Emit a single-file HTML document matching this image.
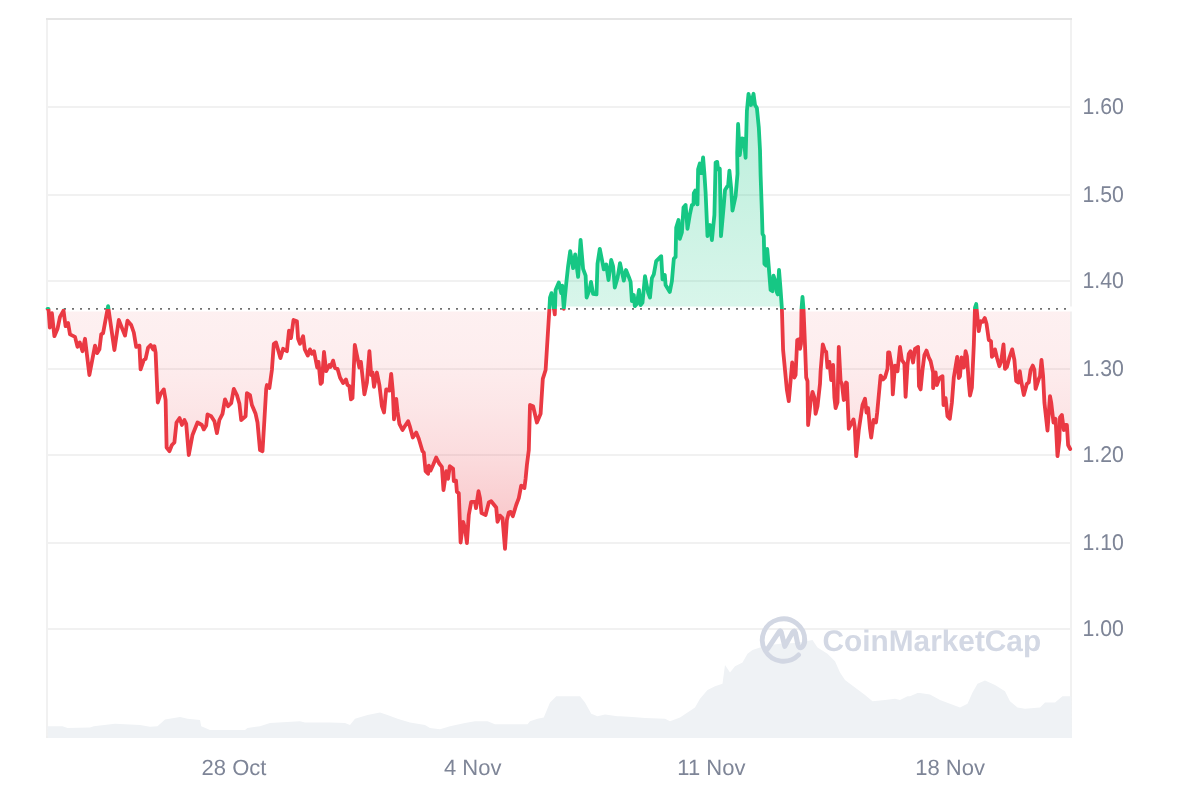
<!DOCTYPE html>
<html><head><meta charset="utf-8"><title>Chart</title>
<style>
html,body{margin:0;padding:0;background:#fff;}
body{width:1200px;height:800px;overflow:hidden;}
svg{display:block;}
text{font-family:"Liberation Sans",Arial,Helvetica,sans-serif;text-rendering:geometricPrecision;}
</style></head><body>
<svg width="1200" height="800" viewBox="0 0 1200 800">
<defs>
<clipPath id="up"><rect x="0" y="0" width="1200" height="309"/></clipPath>
<clipPath id="dn"><rect x="0" y="309" width="1200" height="500"/></clipPath>
<linearGradient id="gg" gradientUnits="userSpaceOnUse" x1="0" y1="90" x2="0" y2="309">
<stop offset="0" stop-color="#16c784" stop-opacity="0.30"/><stop offset="1" stop-color="#16c784" stop-opacity="0.165"/></linearGradient>
<linearGradient id="rg" gradientUnits="userSpaceOnUse" x1="0" y1="309" x2="0" y2="550">
<stop offset="0" stop-color="#ea3943" stop-opacity="0.075"/><stop offset="0.2" stop-color="#ea3943" stop-opacity="0.088"/><stop offset="0.4" stop-color="#ea3943" stop-opacity="0.126"/><stop offset="0.6" stop-color="#ea3943" stop-opacity="0.175"/><stop offset="0.8" stop-color="#ea3943" stop-opacity="0.245"/><stop offset="1" stop-color="#ea3943" stop-opacity="0.33"/></linearGradient>
</defs>
<rect width="1200" height="800" fill="#fff"/>

<rect x="48" y="106" width="1022" height="2" fill="#f1f1f1"/>
<rect x="48" y="194" width="1022" height="2" fill="#f1f1f1"/>
<rect x="48" y="280" width="1022" height="2" fill="#f1f1f1"/>
<rect x="48" y="368" width="1022" height="2" fill="#f1f1f1"/>
<rect x="48" y="454" width="1022" height="2" fill="#f1f1f1"/>
<rect x="48" y="542" width="1022" height="2" fill="#f1f1f1"/>
<rect x="48" y="628" width="1022" height="2" fill="#f1f1f1"/>
<rect x="46" y="20" width="2" height="718" fill="#f1f1f1"/><rect x="1070" y="20" width="2" height="718" fill="#f1f1f1"/><rect x="46" y="736" width="1026" height="2" fill="#efefef"/><rect x="46" y="18" width="1026" height="2" fill="#e5e5e5"/>
<path d="M48,738 L47.5,726.25 L62.5,726.25 L67.5,728 L90,727.5 L93.75,726.25 L115,723.75 L140,725 L150,726.75 L157.5,726.25 L165,719.5 L180,717 L187.5,718.75 L200,720 L201.25,726.25 L210,730 L245,730 L247.5,728 L260,726.25 L270,723 L300,721.25 L305,722.5 L327.5,722.5 L330,722.5 L345,723 L350,725 L355,718.75 L367.5,715 L380,712.5 L387.5,715 L397.5,718.75 L410,722.5 L425,725 L430,728 L440,729.25 L450,726.25 L465,723 L475,721.25 L487.5,721.25 L495,724.25 L527.5,724.25 L530,721.25 L537.5,718.75 L543.75,717.5 L550,702.5 L556.25,696.25 L580,696.25 L585,702.5 L591.25,713.75 L597.5,716.25 L605,714.5 L617.5,716.25 L620,716.25 L632.5,717 L645,718 L665,718.75 L670,721.25 L680,717.5 L687.5,712.5 L695,707.5 L700,698.75 L707.5,690 L715,686.25 L722.5,683.75 L725,665 L730,672.5 L735,666.25 L742.5,662.5 L747.5,653.75 L752.5,650 L760,647.5 L770,645 L780,643.75 L795,643 L805,641.5 L812.5,640 L817.5,647.5 L827.5,653.75 L835,661.25 L840,672.5 L845,680 L855,687.5 L865,695 L872.5,701.25 L885,700 L895,698.75 L900,700 L907.5,696.25 L910,696.25 L917.5,693 L920,693 L930,694.5 L940,700 L950,703.75 L960,707.5 L967.5,703.75 L972.5,692.5 L977.5,683.75 L985,680.5 L995,685 L1005,691.25 L1010,701.25 L1017.5,707.5 L1025,708.75 L1040,707.5 L1045,702.5 L1055,702.5 L1062.5,696.25 L1071.25,696.25 L1072,738 Z" fill="#eff2f5"/>
<g id="wm" fill="none" stroke="#d2d7e3" stroke-linecap="round" stroke-linejoin="round">
<path d="M798.6,654.9 A21.2,21.2 0 1 1 804.7,640.3" stroke-width="4.8"/>
<path d="M767.8,648.6 L779.2,631.6 Q780.5,629.8 781.2,632.2 L784.8,646.4 L792.4,632.6 Q794.4,629.4 795.5,633 L797.8,644.5 Q799,649.6 802.2,646.8 Q804.7,644.5 804.7,640.3" stroke-width="5"/>
</g>
<text x="822.6" y="651.4" font-size="29.8" font-weight="bold" fill="#d3d8e4">CoinMarketCap</text>
<path d="M47.5,308.8 L48.5,308.8 L49.8,327.5 L51.9,313.1 L54.4,336.2 L57.5,328.8 L60,316.9 L63.5,310.6 L65.6,326.2 L68.1,323.1 L70,334.4 L75,336.9 L77.5,346.9 L79.8,342.5 L82.5,351.2 L85,338.8 L89.4,375 L95,345.6 L97.2,353.1 L99.4,349.4 L101.2,334.4 L103.1,333.1 L108.1,306.2 L114.4,350 L118.8,320 L125,335.6 L127.5,320.6 L131.2,325 L133.8,332.5 L136.2,346.9 L139.4,345.6 L140.6,369.4 L143.8,360 L145.6,358.8 L148.1,347.5 L150.6,345 L153.1,349.4 L154.4,346.2 L155.6,352.5 L157.8,402.5 L160.6,393.8 L163.8,389.4 L165.6,400 L166.6,447.5 L169.4,451.2 L171.9,445 L174.4,442.5 L176.5,422.5 L179.6,418.1 L181.9,425 L184.4,420 L186.2,423.8 L188.8,455 L192.5,435 L197.5,422.5 L201.9,425 L203.8,429.4 L206.2,425.6 L207.5,414.4 L211.2,416.2 L214.4,421.2 L216.9,433.1 L219.4,420 L222.5,413.8 L225,399.4 L228.1,406.2 L231.2,403.1 L233.8,388.8 L236.9,395 L239.4,403.8 L241.2,420 L245.6,416.2 L246.9,393.1 L250,395 L251.9,405 L255.6,413.8 L257.5,422.5 L260,450 L262.5,451.2 L264.4,420 L266.2,388.8 L266.9,385 L269.4,388.1 L271.9,370 L273.8,343.8 L276,342.5 L280.4,358.1 L283.1,348.8 L286.9,351.2 L289,330.6 L291,338.1 L293.5,320 L296.9,321.2 L298.1,338.8 L300,343.8 L303.1,336.2 L304.8,349.4 L307.8,355.6 L310,349.4 L311.9,353.8 L314,351.2 L317.2,367.5 L318.5,361.9 L320.6,383.8 L321.9,382.5 L324,351.9 L326.2,371.2 L329.4,365 L330.6,366.9 L333.1,360.6 L335,368.1 L337.5,368.8 L340,377.5 L343.1,383.1 L346,379.4 L347.5,385 L349.4,386.2 L351,399.4 L352.5,398.1 L354.8,345 L359.4,367.5 L360.9,361.9 L364.4,394.4 L366.9,382.5 L369.4,351.2 L371.2,375 L372.5,372.5 L374,386.9 L376.9,372.5 L379.4,385 L381.9,406.2 L384,412.5 L386.2,389.4 L389.4,390.6 L391.2,373.8 L392.8,391.2 L394,419.4 L396.2,398.8 L397.5,411.2 L399.4,423.8 L402.5,430 L405.6,425 L408.1,421.2 L410,426.9 L412.8,437.5 L416.2,432.5 L418.8,438.8 L422.5,451.2 L423.8,452.5 L425.6,471.2 L428.1,473.8 L428.8,465.6 L430.6,470.6 L433.1,465 L436.2,457.5 L439.4,463.8 L441.9,466.9 L443.5,490 L446.2,471.2 L448.1,478.8 L449.8,466.2 L453.1,468.8 L453.8,481.2 L456,480.6 L456.9,491.9 L458.8,493.1 L460.6,542.5 L463.1,521.9 L465,528.1 L466.9,543.1 L468.8,515 L471.2,501.9 L475,501.9 L476,508.1 L478.5,491.2 L480,498.1 L481.5,513.1 L485.6,515 L488.8,502.5 L491.2,501.2 L496.2,507.5 L497.5,521.9 L500,515.6 L502.5,518.1 L505,548.8 L506.9,520 L508.8,512.5 L510.6,511.9 L512.8,516.2 L516.2,505 L518.8,498.1 L521.2,485.6 L524.4,488.1 L525.6,478.8 L526.9,465 L528.8,450 L530,405 L533.1,406.2 L536.9,422.5 L540.6,413.8 L542.8,378.8 L545.6,370 L549.4,308.8 L550,297.5 L551.5,293.1 L553.1,302.5 L554.8,314.4 L555.6,290 L558.8,282.5 L561.2,293.1 L562.2,285.6 L563.8,308.8 L566.2,283.8 L568.1,266.2 L570.2,251.2 L573.1,268.1 L575.2,254.4 L578.1,276.9 L580.6,240 L583.1,268.8 L585.6,275.6 L586.6,297.5 L589.4,290 L591,281.9 L593.1,293.8 L596.5,294.4 L597.5,263.8 L599.8,248.8 L603.8,269.4 L606.2,264.4 L608.5,280 L611.2,260 L613.1,266.2 L614.8,287.5 L617.5,278.1 L620,263.1 L623.8,280.6 L626,270 L628.8,276.9 L630.6,281.9 L631.9,301.2 L633.8,295 L634.8,306.2 L636.9,303.8 L639,290 L640.6,305 L642.5,302.5 L645,276.2 L648.1,292.5 L650,297.5 L651.9,278.1 L653.8,274.4 L656.2,261.2 L661.2,256.2 L662.5,279.4 L664.8,275 L665.6,285 L669.8,291.9 L671.9,281.2 L673.8,258.8 L675.6,256.9 L676.2,227.5 L678.5,220 L679.8,238.8 L681.9,232.5 L683.5,207.5 L685.6,205 L687.5,228.8 L690,213.8 L691.9,205 L693.5,204.4 L693.8,193.1 L695.2,190.6 L697.5,204.4 L698.1,169.4 L699.8,163.5 L701.2,173.1 L703.1,157.5 L704.4,173.8 L705.6,192.5 L707.5,236.2 L710,225 L711.9,240 L714.4,215 L715.6,162.5 L717.2,161.9 L718.1,169.4 L719.8,168.8 L721,236.2 L723.8,205 L725,190 L726.9,186.9 L728.1,185.6 L729.4,170.6 L731.2,188.8 L732.5,210.6 L735.6,196.2 L737.5,173.8 L737.2,152.5 L738.1,124 L739.8,155 L741.9,138.5 L743.8,138.8 L745.6,157.8 L746.9,111.2 L748.5,93.8 L751,105 L753.5,93.8 L755,105 L756.9,108.1 L758.8,127.5 L760,150 L760.6,175 L761.9,212.5 L762.5,233.8 L763.8,236.2 L764.4,263.8 L766.2,265.6 L767.2,248.8 L768.8,267.5 L770.6,290 L772.5,291.2 L773.5,275.6 L775,280 L776.9,292.5 L777.8,294.4 L779,270 L780.6,290 L781.9,308.8 L783.1,350 L786.9,390 L788.8,401.2 L792.2,362.5 L794.4,377.5 L795.6,375 L797.2,340 L798.8,339.4 L800,348.8 L801,343.8 L801.5,308.8 L802.5,296.9 L803.5,308.8 L805,345 L806.2,377.5 L807.5,381.2 L808.1,425 L810.6,401.9 L812.5,391.9 L814.4,397.5 L815.6,413.8 L817.5,406.2 L820,383.8 L820.6,371.2 L822.8,344.4 L825,351.2 L826.2,351.9 L827.5,367.5 L829.4,361.9 L831.2,380 L833.1,365 L834.4,397.5 L835.6,408.1 L837.5,402.5 L838.8,346.9 L840.6,381.2 L841.9,383.8 L843.8,400 L845,398.8 L846,382.5 L846.9,383.1 L848.8,428.8 L851.2,423.8 L853.5,419.4 L854.8,427.5 L856.2,456.2 L858.8,430 L862.5,405 L865,398.8 L866.5,412.5 L868.1,408.1 L870,428.8 L871.2,437.5 L873.5,420 L876,422.5 L877.2,412.5 L880.6,375.6 L883.1,379.4 L885,377.5 L887.5,368.8 L888.1,352.5 L889.4,352.5 L891.9,367.5 L892.8,394.4 L895,365.6 L897.5,371.2 L900,346.9 L901.9,360 L904.4,363.8 L905.6,396.9 L907.5,365 L908.8,353.8 L910.6,351.2 L913.1,362.5 L915,348.8 L918.1,346.9 L919,386.2 L920.6,389.4 L922.5,370 L924.4,355 L926.5,350.6 L928.8,357.5 L930.6,361.2 L933.1,372.5 L933.1,388.1 L935.6,372.5 L936.9,385 L939.4,378.1 L942.5,376.2 L943.5,405 L945.6,398.1 L947.5,416.2 L949.8,418.8 L951.9,402.5 L953.8,377.5 L957.2,356.9 L958.8,378.1 L960,376.2 L961.5,357.5 L963.8,367.5 L965.6,351.2 L966.9,356.2 L968.8,382.5 L970,395.6 L971.9,387.5 L973.8,345 L975,307.5 L976.2,304 L977.2,315 L978.8,331.2 L980.6,321.2 L982.5,321.9 L984.8,318.1 L986.5,323.8 L988.8,340 L991,341.2 L991.9,356.9 L993.5,355 L995,349.4 L996.9,357.5 L999.4,366.2 L1001.2,361.2 L1003.5,344.4 L1005,368.8 L1006.9,366.9 L1009.4,357.5 L1012.2,349.4 L1014.4,360 L1016.2,381.2 L1018.5,382.5 L1019.8,371.2 L1021.2,381.2 L1023.8,395 L1026.9,383.8 L1028.8,382.5 L1030.6,370 L1032.8,365.6 L1034.4,370 L1035.6,388.8 L1038.8,378.8 L1040,376.2 L1041.5,360 L1043.1,376.2 L1044.4,402.5 L1047.5,430.6 L1050,396.2 L1051.2,402.5 L1053.5,422.5 L1055.6,418.8 L1057.5,456.2 L1059.4,440 L1060,417.5 L1061.9,415 L1063.8,430 L1065.6,425 L1066.9,425 L1068.1,445 L1070.2,449 L1070.2,309.0 L47.5,309.0 Z" fill="url(#gg)" clip-path="url(#up)"/>
<path d="M47.5,308.8 L48.5,308.8 L49.8,327.5 L51.9,313.1 L54.4,336.2 L57.5,328.8 L60,316.9 L63.5,310.6 L65.6,326.2 L68.1,323.1 L70,334.4 L75,336.9 L77.5,346.9 L79.8,342.5 L82.5,351.2 L85,338.8 L89.4,375 L95,345.6 L97.2,353.1 L99.4,349.4 L101.2,334.4 L103.1,333.1 L108.1,306.2 L114.4,350 L118.8,320 L125,335.6 L127.5,320.6 L131.2,325 L133.8,332.5 L136.2,346.9 L139.4,345.6 L140.6,369.4 L143.8,360 L145.6,358.8 L148.1,347.5 L150.6,345 L153.1,349.4 L154.4,346.2 L155.6,352.5 L157.8,402.5 L160.6,393.8 L163.8,389.4 L165.6,400 L166.6,447.5 L169.4,451.2 L171.9,445 L174.4,442.5 L176.5,422.5 L179.6,418.1 L181.9,425 L184.4,420 L186.2,423.8 L188.8,455 L192.5,435 L197.5,422.5 L201.9,425 L203.8,429.4 L206.2,425.6 L207.5,414.4 L211.2,416.2 L214.4,421.2 L216.9,433.1 L219.4,420 L222.5,413.8 L225,399.4 L228.1,406.2 L231.2,403.1 L233.8,388.8 L236.9,395 L239.4,403.8 L241.2,420 L245.6,416.2 L246.9,393.1 L250,395 L251.9,405 L255.6,413.8 L257.5,422.5 L260,450 L262.5,451.2 L264.4,420 L266.2,388.8 L266.9,385 L269.4,388.1 L271.9,370 L273.8,343.8 L276,342.5 L280.4,358.1 L283.1,348.8 L286.9,351.2 L289,330.6 L291,338.1 L293.5,320 L296.9,321.2 L298.1,338.8 L300,343.8 L303.1,336.2 L304.8,349.4 L307.8,355.6 L310,349.4 L311.9,353.8 L314,351.2 L317.2,367.5 L318.5,361.9 L320.6,383.8 L321.9,382.5 L324,351.9 L326.2,371.2 L329.4,365 L330.6,366.9 L333.1,360.6 L335,368.1 L337.5,368.8 L340,377.5 L343.1,383.1 L346,379.4 L347.5,385 L349.4,386.2 L351,399.4 L352.5,398.1 L354.8,345 L359.4,367.5 L360.9,361.9 L364.4,394.4 L366.9,382.5 L369.4,351.2 L371.2,375 L372.5,372.5 L374,386.9 L376.9,372.5 L379.4,385 L381.9,406.2 L384,412.5 L386.2,389.4 L389.4,390.6 L391.2,373.8 L392.8,391.2 L394,419.4 L396.2,398.8 L397.5,411.2 L399.4,423.8 L402.5,430 L405.6,425 L408.1,421.2 L410,426.9 L412.8,437.5 L416.2,432.5 L418.8,438.8 L422.5,451.2 L423.8,452.5 L425.6,471.2 L428.1,473.8 L428.8,465.6 L430.6,470.6 L433.1,465 L436.2,457.5 L439.4,463.8 L441.9,466.9 L443.5,490 L446.2,471.2 L448.1,478.8 L449.8,466.2 L453.1,468.8 L453.8,481.2 L456,480.6 L456.9,491.9 L458.8,493.1 L460.6,542.5 L463.1,521.9 L465,528.1 L466.9,543.1 L468.8,515 L471.2,501.9 L475,501.9 L476,508.1 L478.5,491.2 L480,498.1 L481.5,513.1 L485.6,515 L488.8,502.5 L491.2,501.2 L496.2,507.5 L497.5,521.9 L500,515.6 L502.5,518.1 L505,548.8 L506.9,520 L508.8,512.5 L510.6,511.9 L512.8,516.2 L516.2,505 L518.8,498.1 L521.2,485.6 L524.4,488.1 L525.6,478.8 L526.9,465 L528.8,450 L530,405 L533.1,406.2 L536.9,422.5 L540.6,413.8 L542.8,378.8 L545.6,370 L549.4,308.8 L550,297.5 L551.5,293.1 L553.1,302.5 L554.8,314.4 L555.6,290 L558.8,282.5 L561.2,293.1 L562.2,285.6 L563.8,308.8 L566.2,283.8 L568.1,266.2 L570.2,251.2 L573.1,268.1 L575.2,254.4 L578.1,276.9 L580.6,240 L583.1,268.8 L585.6,275.6 L586.6,297.5 L589.4,290 L591,281.9 L593.1,293.8 L596.5,294.4 L597.5,263.8 L599.8,248.8 L603.8,269.4 L606.2,264.4 L608.5,280 L611.2,260 L613.1,266.2 L614.8,287.5 L617.5,278.1 L620,263.1 L623.8,280.6 L626,270 L628.8,276.9 L630.6,281.9 L631.9,301.2 L633.8,295 L634.8,306.2 L636.9,303.8 L639,290 L640.6,305 L642.5,302.5 L645,276.2 L648.1,292.5 L650,297.5 L651.9,278.1 L653.8,274.4 L656.2,261.2 L661.2,256.2 L662.5,279.4 L664.8,275 L665.6,285 L669.8,291.9 L671.9,281.2 L673.8,258.8 L675.6,256.9 L676.2,227.5 L678.5,220 L679.8,238.8 L681.9,232.5 L683.5,207.5 L685.6,205 L687.5,228.8 L690,213.8 L691.9,205 L693.5,204.4 L693.8,193.1 L695.2,190.6 L697.5,204.4 L698.1,169.4 L699.8,163.5 L701.2,173.1 L703.1,157.5 L704.4,173.8 L705.6,192.5 L707.5,236.2 L710,225 L711.9,240 L714.4,215 L715.6,162.5 L717.2,161.9 L718.1,169.4 L719.8,168.8 L721,236.2 L723.8,205 L725,190 L726.9,186.9 L728.1,185.6 L729.4,170.6 L731.2,188.8 L732.5,210.6 L735.6,196.2 L737.5,173.8 L737.2,152.5 L738.1,124 L739.8,155 L741.9,138.5 L743.8,138.8 L745.6,157.8 L746.9,111.2 L748.5,93.8 L751,105 L753.5,93.8 L755,105 L756.9,108.1 L758.8,127.5 L760,150 L760.6,175 L761.9,212.5 L762.5,233.8 L763.8,236.2 L764.4,263.8 L766.2,265.6 L767.2,248.8 L768.8,267.5 L770.6,290 L772.5,291.2 L773.5,275.6 L775,280 L776.9,292.5 L777.8,294.4 L779,270 L780.6,290 L781.9,308.8 L783.1,350 L786.9,390 L788.8,401.2 L792.2,362.5 L794.4,377.5 L795.6,375 L797.2,340 L798.8,339.4 L800,348.8 L801,343.8 L801.5,308.8 L802.5,296.9 L803.5,308.8 L805,345 L806.2,377.5 L807.5,381.2 L808.1,425 L810.6,401.9 L812.5,391.9 L814.4,397.5 L815.6,413.8 L817.5,406.2 L820,383.8 L820.6,371.2 L822.8,344.4 L825,351.2 L826.2,351.9 L827.5,367.5 L829.4,361.9 L831.2,380 L833.1,365 L834.4,397.5 L835.6,408.1 L837.5,402.5 L838.8,346.9 L840.6,381.2 L841.9,383.8 L843.8,400 L845,398.8 L846,382.5 L846.9,383.1 L848.8,428.8 L851.2,423.8 L853.5,419.4 L854.8,427.5 L856.2,456.2 L858.8,430 L862.5,405 L865,398.8 L866.5,412.5 L868.1,408.1 L870,428.8 L871.2,437.5 L873.5,420 L876,422.5 L877.2,412.5 L880.6,375.6 L883.1,379.4 L885,377.5 L887.5,368.8 L888.1,352.5 L889.4,352.5 L891.9,367.5 L892.8,394.4 L895,365.6 L897.5,371.2 L900,346.9 L901.9,360 L904.4,363.8 L905.6,396.9 L907.5,365 L908.8,353.8 L910.6,351.2 L913.1,362.5 L915,348.8 L918.1,346.9 L919,386.2 L920.6,389.4 L922.5,370 L924.4,355 L926.5,350.6 L928.8,357.5 L930.6,361.2 L933.1,372.5 L933.1,388.1 L935.6,372.5 L936.9,385 L939.4,378.1 L942.5,376.2 L943.5,405 L945.6,398.1 L947.5,416.2 L949.8,418.8 L951.9,402.5 L953.8,377.5 L957.2,356.9 L958.8,378.1 L960,376.2 L961.5,357.5 L963.8,367.5 L965.6,351.2 L966.9,356.2 L968.8,382.5 L970,395.6 L971.9,387.5 L973.8,345 L975,307.5 L976.2,304 L977.2,315 L978.8,331.2 L980.6,321.2 L982.5,321.9 L984.8,318.1 L986.5,323.8 L988.8,340 L991,341.2 L991.9,356.9 L993.5,355 L995,349.4 L996.9,357.5 L999.4,366.2 L1001.2,361.2 L1003.5,344.4 L1005,368.8 L1006.9,366.9 L1009.4,357.5 L1012.2,349.4 L1014.4,360 L1016.2,381.2 L1018.5,382.5 L1019.8,371.2 L1021.2,381.2 L1023.8,395 L1026.9,383.8 L1028.8,382.5 L1030.6,370 L1032.8,365.6 L1034.4,370 L1035.6,388.8 L1038.8,378.8 L1040,376.2 L1041.5,360 L1043.1,376.2 L1044.4,402.5 L1047.5,430.6 L1050,396.2 L1051.2,402.5 L1053.5,422.5 L1055.6,418.8 L1057.5,456.2 L1059.4,440 L1060,417.5 L1061.9,415 L1063.8,430 L1065.6,425 L1066.9,425 L1068.1,445 L1070.2,449 L1070.2,309.0 L47.5,309.0 Z" fill="url(#rg)" clip-path="url(#dn)"/>
<line x1="48" x2="1072" y1="309.0" y2="309.0" stroke="#fff" stroke-width="5.2"/>
<line x1="48" x2="1072" y1="308.9" y2="308.9" stroke="#707070" stroke-width="1.8" stroke-dasharray="2 6"/>
<path d="M47.5,308.8 L48.5,308.8 L49.8,327.5 L51.9,313.1 L54.4,336.2 L57.5,328.8 L60,316.9 L63.5,310.6 L65.6,326.2 L68.1,323.1 L70,334.4 L75,336.9 L77.5,346.9 L79.8,342.5 L82.5,351.2 L85,338.8 L89.4,375 L95,345.6 L97.2,353.1 L99.4,349.4 L101.2,334.4 L103.1,333.1 L108.1,306.2 L114.4,350 L118.8,320 L125,335.6 L127.5,320.6 L131.2,325 L133.8,332.5 L136.2,346.9 L139.4,345.6 L140.6,369.4 L143.8,360 L145.6,358.8 L148.1,347.5 L150.6,345 L153.1,349.4 L154.4,346.2 L155.6,352.5 L157.8,402.5 L160.6,393.8 L163.8,389.4 L165.6,400 L166.6,447.5 L169.4,451.2 L171.9,445 L174.4,442.5 L176.5,422.5 L179.6,418.1 L181.9,425 L184.4,420 L186.2,423.8 L188.8,455 L192.5,435 L197.5,422.5 L201.9,425 L203.8,429.4 L206.2,425.6 L207.5,414.4 L211.2,416.2 L214.4,421.2 L216.9,433.1 L219.4,420 L222.5,413.8 L225,399.4 L228.1,406.2 L231.2,403.1 L233.8,388.8 L236.9,395 L239.4,403.8 L241.2,420 L245.6,416.2 L246.9,393.1 L250,395 L251.9,405 L255.6,413.8 L257.5,422.5 L260,450 L262.5,451.2 L264.4,420 L266.2,388.8 L266.9,385 L269.4,388.1 L271.9,370 L273.8,343.8 L276,342.5 L280.4,358.1 L283.1,348.8 L286.9,351.2 L289,330.6 L291,338.1 L293.5,320 L296.9,321.2 L298.1,338.8 L300,343.8 L303.1,336.2 L304.8,349.4 L307.8,355.6 L310,349.4 L311.9,353.8 L314,351.2 L317.2,367.5 L318.5,361.9 L320.6,383.8 L321.9,382.5 L324,351.9 L326.2,371.2 L329.4,365 L330.6,366.9 L333.1,360.6 L335,368.1 L337.5,368.8 L340,377.5 L343.1,383.1 L346,379.4 L347.5,385 L349.4,386.2 L351,399.4 L352.5,398.1 L354.8,345 L359.4,367.5 L360.9,361.9 L364.4,394.4 L366.9,382.5 L369.4,351.2 L371.2,375 L372.5,372.5 L374,386.9 L376.9,372.5 L379.4,385 L381.9,406.2 L384,412.5 L386.2,389.4 L389.4,390.6 L391.2,373.8 L392.8,391.2 L394,419.4 L396.2,398.8 L397.5,411.2 L399.4,423.8 L402.5,430 L405.6,425 L408.1,421.2 L410,426.9 L412.8,437.5 L416.2,432.5 L418.8,438.8 L422.5,451.2 L423.8,452.5 L425.6,471.2 L428.1,473.8 L428.8,465.6 L430.6,470.6 L433.1,465 L436.2,457.5 L439.4,463.8 L441.9,466.9 L443.5,490 L446.2,471.2 L448.1,478.8 L449.8,466.2 L453.1,468.8 L453.8,481.2 L456,480.6 L456.9,491.9 L458.8,493.1 L460.6,542.5 L463.1,521.9 L465,528.1 L466.9,543.1 L468.8,515 L471.2,501.9 L475,501.9 L476,508.1 L478.5,491.2 L480,498.1 L481.5,513.1 L485.6,515 L488.8,502.5 L491.2,501.2 L496.2,507.5 L497.5,521.9 L500,515.6 L502.5,518.1 L505,548.8 L506.9,520 L508.8,512.5 L510.6,511.9 L512.8,516.2 L516.2,505 L518.8,498.1 L521.2,485.6 L524.4,488.1 L525.6,478.8 L526.9,465 L528.8,450 L530,405 L533.1,406.2 L536.9,422.5 L540.6,413.8 L542.8,378.8 L545.6,370 L549.4,308.8 L550,297.5 L551.5,293.1 L553.1,302.5 L554.8,314.4 L555.6,290 L558.8,282.5 L561.2,293.1 L562.2,285.6 L563.8,308.8 L566.2,283.8 L568.1,266.2 L570.2,251.2 L573.1,268.1 L575.2,254.4 L578.1,276.9 L580.6,240 L583.1,268.8 L585.6,275.6 L586.6,297.5 L589.4,290 L591,281.9 L593.1,293.8 L596.5,294.4 L597.5,263.8 L599.8,248.8 L603.8,269.4 L606.2,264.4 L608.5,280 L611.2,260 L613.1,266.2 L614.8,287.5 L617.5,278.1 L620,263.1 L623.8,280.6 L626,270 L628.8,276.9 L630.6,281.9 L631.9,301.2 L633.8,295 L634.8,306.2 L636.9,303.8 L639,290 L640.6,305 L642.5,302.5 L645,276.2 L648.1,292.5 L650,297.5 L651.9,278.1 L653.8,274.4 L656.2,261.2 L661.2,256.2 L662.5,279.4 L664.8,275 L665.6,285 L669.8,291.9 L671.9,281.2 L673.8,258.8 L675.6,256.9 L676.2,227.5 L678.5,220 L679.8,238.8 L681.9,232.5 L683.5,207.5 L685.6,205 L687.5,228.8 L690,213.8 L691.9,205 L693.5,204.4 L693.8,193.1 L695.2,190.6 L697.5,204.4 L698.1,169.4 L699.8,163.5 L701.2,173.1 L703.1,157.5 L704.4,173.8 L705.6,192.5 L707.5,236.2 L710,225 L711.9,240 L714.4,215 L715.6,162.5 L717.2,161.9 L718.1,169.4 L719.8,168.8 L721,236.2 L723.8,205 L725,190 L726.9,186.9 L728.1,185.6 L729.4,170.6 L731.2,188.8 L732.5,210.6 L735.6,196.2 L737.5,173.8 L737.2,152.5 L738.1,124 L739.8,155 L741.9,138.5 L743.8,138.8 L745.6,157.8 L746.9,111.2 L748.5,93.8 L751,105 L753.5,93.8 L755,105 L756.9,108.1 L758.8,127.5 L760,150 L760.6,175 L761.9,212.5 L762.5,233.8 L763.8,236.2 L764.4,263.8 L766.2,265.6 L767.2,248.8 L768.8,267.5 L770.6,290 L772.5,291.2 L773.5,275.6 L775,280 L776.9,292.5 L777.8,294.4 L779,270 L780.6,290 L781.9,308.8 L783.1,350 L786.9,390 L788.8,401.2 L792.2,362.5 L794.4,377.5 L795.6,375 L797.2,340 L798.8,339.4 L800,348.8 L801,343.8 L801.5,308.8 L802.5,296.9 L803.5,308.8 L805,345 L806.2,377.5 L807.5,381.2 L808.1,425 L810.6,401.9 L812.5,391.9 L814.4,397.5 L815.6,413.8 L817.5,406.2 L820,383.8 L820.6,371.2 L822.8,344.4 L825,351.2 L826.2,351.9 L827.5,367.5 L829.4,361.9 L831.2,380 L833.1,365 L834.4,397.5 L835.6,408.1 L837.5,402.5 L838.8,346.9 L840.6,381.2 L841.9,383.8 L843.8,400 L845,398.8 L846,382.5 L846.9,383.1 L848.8,428.8 L851.2,423.8 L853.5,419.4 L854.8,427.5 L856.2,456.2 L858.8,430 L862.5,405 L865,398.8 L866.5,412.5 L868.1,408.1 L870,428.8 L871.2,437.5 L873.5,420 L876,422.5 L877.2,412.5 L880.6,375.6 L883.1,379.4 L885,377.5 L887.5,368.8 L888.1,352.5 L889.4,352.5 L891.9,367.5 L892.8,394.4 L895,365.6 L897.5,371.2 L900,346.9 L901.9,360 L904.4,363.8 L905.6,396.9 L907.5,365 L908.8,353.8 L910.6,351.2 L913.1,362.5 L915,348.8 L918.1,346.9 L919,386.2 L920.6,389.4 L922.5,370 L924.4,355 L926.5,350.6 L928.8,357.5 L930.6,361.2 L933.1,372.5 L933.1,388.1 L935.6,372.5 L936.9,385 L939.4,378.1 L942.5,376.2 L943.5,405 L945.6,398.1 L947.5,416.2 L949.8,418.8 L951.9,402.5 L953.8,377.5 L957.2,356.9 L958.8,378.1 L960,376.2 L961.5,357.5 L963.8,367.5 L965.6,351.2 L966.9,356.2 L968.8,382.5 L970,395.6 L971.9,387.5 L973.8,345 L975,307.5 L976.2,304 L977.2,315 L978.8,331.2 L980.6,321.2 L982.5,321.9 L984.8,318.1 L986.5,323.8 L988.8,340 L991,341.2 L991.9,356.9 L993.5,355 L995,349.4 L996.9,357.5 L999.4,366.2 L1001.2,361.2 L1003.5,344.4 L1005,368.8 L1006.9,366.9 L1009.4,357.5 L1012.2,349.4 L1014.4,360 L1016.2,381.2 L1018.5,382.5 L1019.8,371.2 L1021.2,381.2 L1023.8,395 L1026.9,383.8 L1028.8,382.5 L1030.6,370 L1032.8,365.6 L1034.4,370 L1035.6,388.8 L1038.8,378.8 L1040,376.2 L1041.5,360 L1043.1,376.2 L1044.4,402.5 L1047.5,430.6 L1050,396.2 L1051.2,402.5 L1053.5,422.5 L1055.6,418.8 L1057.5,456.2 L1059.4,440 L1060,417.5 L1061.9,415 L1063.8,430 L1065.6,425 L1066.9,425 L1068.1,445 L1070.2,449" fill="none" stroke="#16c784" stroke-width="3.8" stroke-linejoin="round" stroke-linecap="round" clip-path="url(#up)"/>
<path d="M47.5,308.8 L48.5,308.8 L49.8,327.5 L51.9,313.1 L54.4,336.2 L57.5,328.8 L60,316.9 L63.5,310.6 L65.6,326.2 L68.1,323.1 L70,334.4 L75,336.9 L77.5,346.9 L79.8,342.5 L82.5,351.2 L85,338.8 L89.4,375 L95,345.6 L97.2,353.1 L99.4,349.4 L101.2,334.4 L103.1,333.1 L108.1,306.2 L114.4,350 L118.8,320 L125,335.6 L127.5,320.6 L131.2,325 L133.8,332.5 L136.2,346.9 L139.4,345.6 L140.6,369.4 L143.8,360 L145.6,358.8 L148.1,347.5 L150.6,345 L153.1,349.4 L154.4,346.2 L155.6,352.5 L157.8,402.5 L160.6,393.8 L163.8,389.4 L165.6,400 L166.6,447.5 L169.4,451.2 L171.9,445 L174.4,442.5 L176.5,422.5 L179.6,418.1 L181.9,425 L184.4,420 L186.2,423.8 L188.8,455 L192.5,435 L197.5,422.5 L201.9,425 L203.8,429.4 L206.2,425.6 L207.5,414.4 L211.2,416.2 L214.4,421.2 L216.9,433.1 L219.4,420 L222.5,413.8 L225,399.4 L228.1,406.2 L231.2,403.1 L233.8,388.8 L236.9,395 L239.4,403.8 L241.2,420 L245.6,416.2 L246.9,393.1 L250,395 L251.9,405 L255.6,413.8 L257.5,422.5 L260,450 L262.5,451.2 L264.4,420 L266.2,388.8 L266.9,385 L269.4,388.1 L271.9,370 L273.8,343.8 L276,342.5 L280.4,358.1 L283.1,348.8 L286.9,351.2 L289,330.6 L291,338.1 L293.5,320 L296.9,321.2 L298.1,338.8 L300,343.8 L303.1,336.2 L304.8,349.4 L307.8,355.6 L310,349.4 L311.9,353.8 L314,351.2 L317.2,367.5 L318.5,361.9 L320.6,383.8 L321.9,382.5 L324,351.9 L326.2,371.2 L329.4,365 L330.6,366.9 L333.1,360.6 L335,368.1 L337.5,368.8 L340,377.5 L343.1,383.1 L346,379.4 L347.5,385 L349.4,386.2 L351,399.4 L352.5,398.1 L354.8,345 L359.4,367.5 L360.9,361.9 L364.4,394.4 L366.9,382.5 L369.4,351.2 L371.2,375 L372.5,372.5 L374,386.9 L376.9,372.5 L379.4,385 L381.9,406.2 L384,412.5 L386.2,389.4 L389.4,390.6 L391.2,373.8 L392.8,391.2 L394,419.4 L396.2,398.8 L397.5,411.2 L399.4,423.8 L402.5,430 L405.6,425 L408.1,421.2 L410,426.9 L412.8,437.5 L416.2,432.5 L418.8,438.8 L422.5,451.2 L423.8,452.5 L425.6,471.2 L428.1,473.8 L428.8,465.6 L430.6,470.6 L433.1,465 L436.2,457.5 L439.4,463.8 L441.9,466.9 L443.5,490 L446.2,471.2 L448.1,478.8 L449.8,466.2 L453.1,468.8 L453.8,481.2 L456,480.6 L456.9,491.9 L458.8,493.1 L460.6,542.5 L463.1,521.9 L465,528.1 L466.9,543.1 L468.8,515 L471.2,501.9 L475,501.9 L476,508.1 L478.5,491.2 L480,498.1 L481.5,513.1 L485.6,515 L488.8,502.5 L491.2,501.2 L496.2,507.5 L497.5,521.9 L500,515.6 L502.5,518.1 L505,548.8 L506.9,520 L508.8,512.5 L510.6,511.9 L512.8,516.2 L516.2,505 L518.8,498.1 L521.2,485.6 L524.4,488.1 L525.6,478.8 L526.9,465 L528.8,450 L530,405 L533.1,406.2 L536.9,422.5 L540.6,413.8 L542.8,378.8 L545.6,370 L549.4,308.8 L550,297.5 L551.5,293.1 L553.1,302.5 L554.8,314.4 L555.6,290 L558.8,282.5 L561.2,293.1 L562.2,285.6 L563.8,308.8 L566.2,283.8 L568.1,266.2 L570.2,251.2 L573.1,268.1 L575.2,254.4 L578.1,276.9 L580.6,240 L583.1,268.8 L585.6,275.6 L586.6,297.5 L589.4,290 L591,281.9 L593.1,293.8 L596.5,294.4 L597.5,263.8 L599.8,248.8 L603.8,269.4 L606.2,264.4 L608.5,280 L611.2,260 L613.1,266.2 L614.8,287.5 L617.5,278.1 L620,263.1 L623.8,280.6 L626,270 L628.8,276.9 L630.6,281.9 L631.9,301.2 L633.8,295 L634.8,306.2 L636.9,303.8 L639,290 L640.6,305 L642.5,302.5 L645,276.2 L648.1,292.5 L650,297.5 L651.9,278.1 L653.8,274.4 L656.2,261.2 L661.2,256.2 L662.5,279.4 L664.8,275 L665.6,285 L669.8,291.9 L671.9,281.2 L673.8,258.8 L675.6,256.9 L676.2,227.5 L678.5,220 L679.8,238.8 L681.9,232.5 L683.5,207.5 L685.6,205 L687.5,228.8 L690,213.8 L691.9,205 L693.5,204.4 L693.8,193.1 L695.2,190.6 L697.5,204.4 L698.1,169.4 L699.8,163.5 L701.2,173.1 L703.1,157.5 L704.4,173.8 L705.6,192.5 L707.5,236.2 L710,225 L711.9,240 L714.4,215 L715.6,162.5 L717.2,161.9 L718.1,169.4 L719.8,168.8 L721,236.2 L723.8,205 L725,190 L726.9,186.9 L728.1,185.6 L729.4,170.6 L731.2,188.8 L732.5,210.6 L735.6,196.2 L737.5,173.8 L737.2,152.5 L738.1,124 L739.8,155 L741.9,138.5 L743.8,138.8 L745.6,157.8 L746.9,111.2 L748.5,93.8 L751,105 L753.5,93.8 L755,105 L756.9,108.1 L758.8,127.5 L760,150 L760.6,175 L761.9,212.5 L762.5,233.8 L763.8,236.2 L764.4,263.8 L766.2,265.6 L767.2,248.8 L768.8,267.5 L770.6,290 L772.5,291.2 L773.5,275.6 L775,280 L776.9,292.5 L777.8,294.4 L779,270 L780.6,290 L781.9,308.8 L783.1,350 L786.9,390 L788.8,401.2 L792.2,362.5 L794.4,377.5 L795.6,375 L797.2,340 L798.8,339.4 L800,348.8 L801,343.8 L801.5,308.8 L802.5,296.9 L803.5,308.8 L805,345 L806.2,377.5 L807.5,381.2 L808.1,425 L810.6,401.9 L812.5,391.9 L814.4,397.5 L815.6,413.8 L817.5,406.2 L820,383.8 L820.6,371.2 L822.8,344.4 L825,351.2 L826.2,351.9 L827.5,367.5 L829.4,361.9 L831.2,380 L833.1,365 L834.4,397.5 L835.6,408.1 L837.5,402.5 L838.8,346.9 L840.6,381.2 L841.9,383.8 L843.8,400 L845,398.8 L846,382.5 L846.9,383.1 L848.8,428.8 L851.2,423.8 L853.5,419.4 L854.8,427.5 L856.2,456.2 L858.8,430 L862.5,405 L865,398.8 L866.5,412.5 L868.1,408.1 L870,428.8 L871.2,437.5 L873.5,420 L876,422.5 L877.2,412.5 L880.6,375.6 L883.1,379.4 L885,377.5 L887.5,368.8 L888.1,352.5 L889.4,352.5 L891.9,367.5 L892.8,394.4 L895,365.6 L897.5,371.2 L900,346.9 L901.9,360 L904.4,363.8 L905.6,396.9 L907.5,365 L908.8,353.8 L910.6,351.2 L913.1,362.5 L915,348.8 L918.1,346.9 L919,386.2 L920.6,389.4 L922.5,370 L924.4,355 L926.5,350.6 L928.8,357.5 L930.6,361.2 L933.1,372.5 L933.1,388.1 L935.6,372.5 L936.9,385 L939.4,378.1 L942.5,376.2 L943.5,405 L945.6,398.1 L947.5,416.2 L949.8,418.8 L951.9,402.5 L953.8,377.5 L957.2,356.9 L958.8,378.1 L960,376.2 L961.5,357.5 L963.8,367.5 L965.6,351.2 L966.9,356.2 L968.8,382.5 L970,395.6 L971.9,387.5 L973.8,345 L975,307.5 L976.2,304 L977.2,315 L978.8,331.2 L980.6,321.2 L982.5,321.9 L984.8,318.1 L986.5,323.8 L988.8,340 L991,341.2 L991.9,356.9 L993.5,355 L995,349.4 L996.9,357.5 L999.4,366.2 L1001.2,361.2 L1003.5,344.4 L1005,368.8 L1006.9,366.9 L1009.4,357.5 L1012.2,349.4 L1014.4,360 L1016.2,381.2 L1018.5,382.5 L1019.8,371.2 L1021.2,381.2 L1023.8,395 L1026.9,383.8 L1028.8,382.5 L1030.6,370 L1032.8,365.6 L1034.4,370 L1035.6,388.8 L1038.8,378.8 L1040,376.2 L1041.5,360 L1043.1,376.2 L1044.4,402.5 L1047.5,430.6 L1050,396.2 L1051.2,402.5 L1053.5,422.5 L1055.6,418.8 L1057.5,456.2 L1059.4,440 L1060,417.5 L1061.9,415 L1063.8,430 L1065.6,425 L1066.9,425 L1068.1,445 L1070.2,449" fill="none" stroke="#ea3943" stroke-width="3.8" stroke-linejoin="round" stroke-linecap="round" clip-path="url(#dn)"/>
<text transform="translate(1082.5,113.8) scale(0.934,1)" font-size="22.8" fill="#7e8597">1.60</text>
<text transform="translate(1082.5,201.8) scale(0.934,1)" font-size="22.8" fill="#7e8597">1.50</text>
<text transform="translate(1082.5,287.8) scale(0.934,1)" font-size="22.8" fill="#7e8597">1.40</text>
<text transform="translate(1082.5,375.8) scale(0.934,1)" font-size="22.8" fill="#7e8597">1.30</text>
<text transform="translate(1082.5,461.8) scale(0.934,1)" font-size="22.8" fill="#7e8597">1.20</text>
<text transform="translate(1082.5,549.8) scale(0.934,1)" font-size="22.8" fill="#7e8597">1.10</text>
<text transform="translate(1082.5,635.8) scale(0.934,1)" font-size="22.8" fill="#7e8597">1.00</text>
<text x="234" y="775.1" font-size="22" fill="#7e8597" text-anchor="middle">28 Oct</text>
<text x="472.7" y="775.1" font-size="22" fill="#7e8597" text-anchor="middle">4 Nov</text>
<text x="711.4" y="775.1" font-size="22" fill="#7e8597" text-anchor="middle">11 Nov</text>
<text x="950.1" y="775.1" font-size="22" fill="#7e8597" text-anchor="middle">18 Nov</text>
</svg>
</body></html>
